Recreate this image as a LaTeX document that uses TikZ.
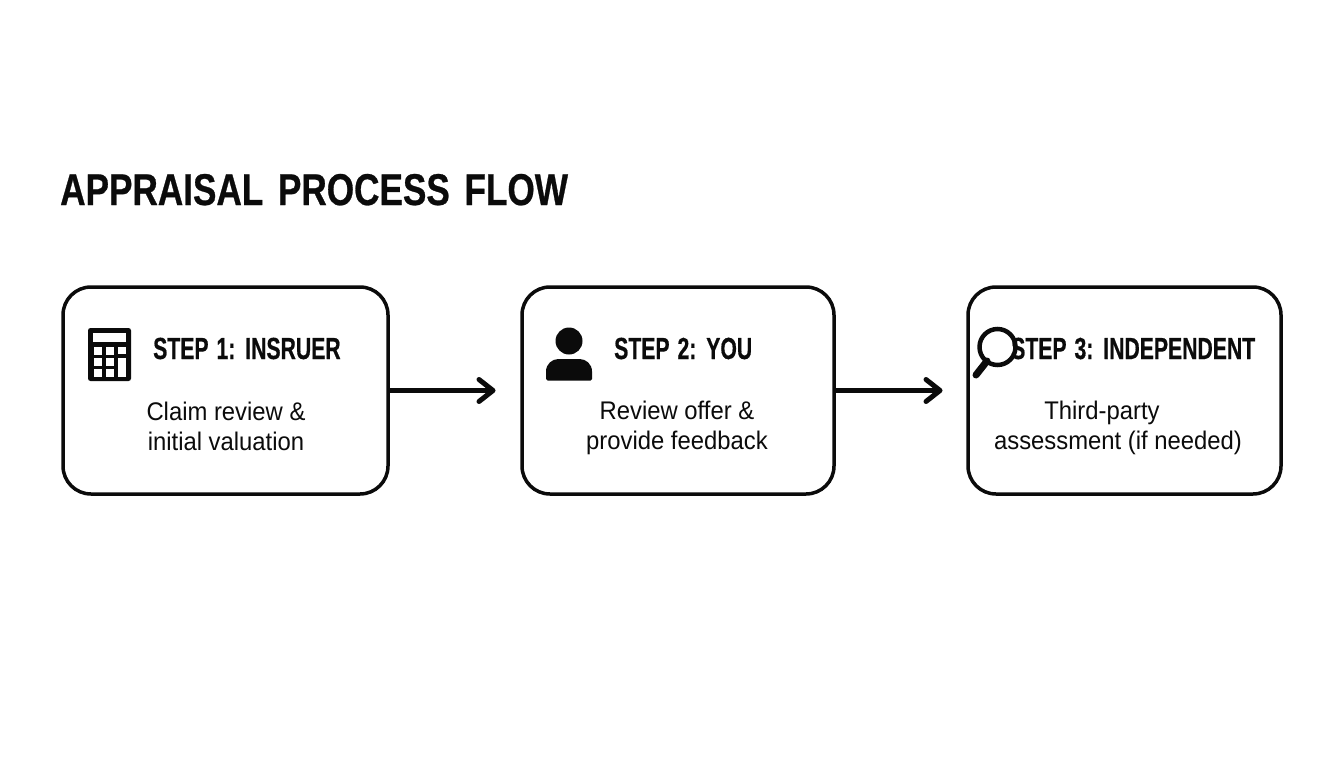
\documentclass[tikz,border=0pt]{standalone}
\usepackage{fontspec}
\setmainfont{Liberation Sans}
\newfontfamily\titlefont[FakeStretch=0.79,FakeBold=0.6,WordSpace=1.5]{Liberation Sans Bold}
\newfontfamily\headfont[FakeStretch=0.695,FakeBold=0.5,WordSpace=1.35]{Liberation Sans Bold}
\newfontfamily\bodyfont[FakeStretch=0.935]{Liberation Sans}
\definecolor{ink}{HTML}{0B0B0B}
\tikzset{
  flowbox/.style={draw=ink,line width=3.5pt,rounded corners=28pt,fill=white,minimum height=207pt,inner sep=0pt},
  flowtitle/.style={anchor=base west,inner sep=0pt,text=ink,font=\titlefont\fontsize{44.5}{44.5}\selectfont},
  flowhead/.style={anchor=base west,inner sep=0pt,text=ink,font=\headfont\fontsize{30.5}{30.5}\selectfont},
  flowbody/.style={align=center,inner sep=0pt,text=ink,font=\bodyfont\fontsize{25.5}{30}\selectfont},
  flowarrow/.style={draw=ink,line width=5pt},
  flowtip/.style={draw=ink,line width=5pt,line cap=round,line join=round}
}
\begin{document}
\begin{tikzpicture}[x=1pt,y=-1pt]
\useasboundingbox (0,0) rectangle (1344,768);
\node[flowtitle] (title) at (60,205) {APPRAISAL PROCESS FLOW};
\node[flowbox,minimum width=325pt] (box1) at (225.5,390.5) {};
\node[flowbox,minimum width=312pt] (box2) at (678,390.5) {};
\node[flowbox,minimum width=313pt] (box3) at (1124.5,390.5) {};
\coordinate (end1) at (493,390.5);
\coordinate (end2) at (940,390.5);
\draw[flowarrow] (box1.east) -- (end1);
\draw[flowarrow] (box2.east) -- (end2);
\draw[flowtip] ([shift={(-14,-11)}]end1) -- (end1) -- ([shift={(-14,11)}]end1);
\draw[flowtip] ([shift={(-14,-11)}]end2) -- (end2) -- ([shift={(-14,11)}]end2);
\node[flowhead] (h1) at (153,359) {STEP 1: INSRUER};
\node[flowhead] (h2) at (614,359) {STEP 2: YOU};
\node[flowhead] (h3) at (1011,359) {STEP 3: INDEPENDENT};
\node[flowbody] (b1) at (226,426) {Claim review \&\\initial valuation};
\node[flowbody] (b2) at (677,428) {Review offer \&\\provide feedback};
\node[flowbody] (b3) at (1118,428) {Third-party\hspace*{32pt}\\assessment (if needed)};
% calculator
\fill[ink,rounded corners=2.5pt] (88,328) rectangle (131,381);
\fill[white] (93,333) rectangle (126,342);
\foreach \x in {94,106,118}{\foreach \y in {347,358,369}{
  \ifnum\x=118 \ifnum\y=347 \fill[white] (\x,\y) rectangle ++(8,7);\fi
  \else \fill[white] (\x,\y) rectangle ++(8,7.5);\fi}}
\fill[white] (118,358) rectangle (126,377);
% person
\fill[ink] (569,341) circle (13.5);
\fill[ink,rounded corners=1.5pt] (546,380.5) -- (546,373) .. controls (546,364) and (552,359) .. (560,359) -- (578,359) .. controls (586,359) and (592,364) .. (592,373) -- (592,380.5) -- cycle;
% magnifier
\draw[ink,line width=4.5pt] (997.5,347) circle (18);
\draw[ink,line width=7pt,line cap=round] (987,361) -- (976,375);
\end{tikzpicture}
\end{document}
